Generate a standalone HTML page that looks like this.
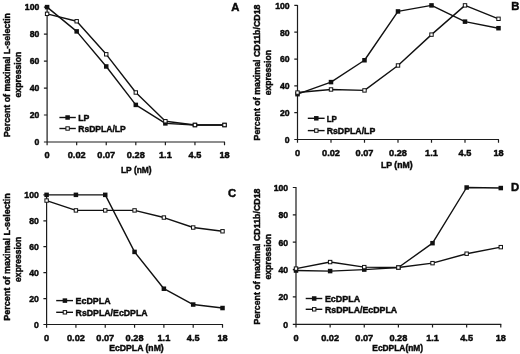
<!DOCTYPE html>
<html lang="en">
<head>
<meta charset="utf-8">
<title>Figure</title>
<style>
html,body{margin:0;padding:0;background:#fff;}
body{width:520px;height:354px;overflow:hidden;}
svg{display:block;}
text{font-family:"Liberation Sans", Arial, Helvetica, sans-serif;font-weight:bold;fill:#0a0a0a;stroke:#0a0a0a;stroke-width:0.45;}
.ax{stroke:#1c1c1c;stroke-width:1.2;fill:none;}
.ln{stroke:#111;stroke-width:1.4;fill:none;stroke-linejoin:round;}
.fm{fill:#111;stroke:none;}
.om{fill:#fff;stroke:#111;stroke-width:1.0;}
</style>
</head>
<body>
<svg width="520" height="354" viewBox="0 0 520 354">
<rect width="520" height="354" fill="#fff"/>
<g>
<path d="M47.1 6.6V145.2M43.9 142H225.02" class="ax"/>
<path d="M43.9 115.02H47.1M43.9 88.04H47.1M43.9 61.06H47.1M43.9 34.08H47.1M43.9 7.1H47.1M76.67 142V145.2M106.24 142V145.2M135.81 142V145.2M165.38 142V145.2M194.95 142V145.2M224.52 142V145.2" class="ax"/>
<text x="39.3" y="145.3" font-size="8.7" text-anchor="end">0</text>
<text x="39.3" y="118.32" font-size="8.7" text-anchor="end">20</text>
<text x="39.3" y="91.34" font-size="8.7" text-anchor="end">40</text>
<text x="39.3" y="64.36" font-size="8.7" text-anchor="end">60</text>
<text x="39.3" y="37.38" font-size="8.7" text-anchor="end">80</text>
<text x="39.3" y="10.4" font-size="8.7" text-anchor="end">100</text>
<text x="47.1" y="158.4" font-size="9.2" text-anchor="middle">0</text>
<text x="76.67" y="158.4" font-size="9.2" text-anchor="middle">0.02</text>
<text x="106.24" y="158.4" font-size="9.2" text-anchor="middle">0.07</text>
<text x="135.81" y="158.4" font-size="9.2" text-anchor="middle">0.28</text>
<text x="165.38" y="158.4" font-size="9.2" text-anchor="middle">1.1</text>
<text x="194.95" y="158.4" font-size="9.2" text-anchor="middle">4.5</text>
<text x="224.52" y="158.4" font-size="9.2" text-anchor="middle">18</text>
<text x="136.3" y="173" font-size="9.2" text-anchor="middle" textLength="30.7" lengthAdjust="spacingAndGlyphs">LP (nM)</text>
<text x="10" y="75" font-size="9.2" text-anchor="middle" textLength="124" lengthAdjust="spacingAndGlyphs" transform="rotate(-90 10 75)">Percent of maximal L-selectin</text>
<text x="21.5" y="74.6" font-size="9.2" text-anchor="middle" textLength="45.7" lengthAdjust="spacingAndGlyphs" transform="rotate(-90 21.5 74.6)">expression</text>
<text x="235.3" y="10.5" font-size="11.3" text-anchor="middle">A</text>
<polyline points="47.1,7.1 76.67,31.38 106.24,66.46 135.81,104.9 165.38,123.38 194.95,125 224.52,125" class="ln"/>
<polyline points="47.1,13.84 76.67,21.26 106.24,54.31 135.81,92.49 165.38,121.23 194.95,125 224.52,125" class="ln"/>
<rect x="44.85" y="4.85" width="4.5" height="4.5" class="fm"/>
<rect x="74.42" y="29.13" width="4.5" height="4.5" class="fm"/>
<rect x="103.99" y="64.21" width="4.5" height="4.5" class="fm"/>
<rect x="133.56" y="102.65" width="4.5" height="4.5" class="fm"/>
<rect x="163.13" y="121.13" width="4.5" height="4.5" class="fm"/>
<rect x="192.7" y="122.75" width="4.5" height="4.5" class="fm"/>
<rect x="222.27" y="122.75" width="4.5" height="4.5" class="fm"/>
<rect x="45.4" y="12.14" width="3.4" height="3.4" class="om"/>
<rect x="74.97" y="19.56" width="3.4" height="3.4" class="om"/>
<rect x="104.54" y="52.61" width="3.4" height="3.4" class="om"/>
<rect x="134.11" y="90.79" width="3.4" height="3.4" class="om"/>
<rect x="163.68" y="119.53" width="3.4" height="3.4" class="om"/>
<rect x="193.25" y="123.3" width="3.4" height="3.4" class="om"/>
<rect x="222.82" y="123.3" width="3.4" height="3.4" class="om"/>
<path d="M59.4 117.5H75.8" class="ln"/>
<rect x="65.35" y="115.25" width="4.5" height="4.5" class="fm"/>
<text x="78.2" y="120.8" font-size="9.7" text-anchor="start" textLength="11.2" lengthAdjust="spacingAndGlyphs">LP</text>
<path d="M59.4 128.5H75.8" class="ln"/>
<rect x="65.9" y="126.8" width="3.4" height="3.4" class="om"/>
<text x="78.2" y="131.8" font-size="9.7" text-anchor="start" textLength="47.6" lengthAdjust="spacingAndGlyphs">RsDPLA/LP</text>
</g>
<g>
<path d="M297.5 4.9V142.7M294.3 139.5H499" class="ax"/>
<path d="M294.3 112.68H297.5M294.3 85.86H297.5M294.3 59.04H297.5M294.3 32.22H297.5M294.3 5.4H297.5M331 139.5V142.7M364.5 139.5V142.7M398 139.5V142.7M431.5 139.5V142.7M465 139.5V142.7M498.5 139.5V142.7" class="ax"/>
<text x="289.7" y="142.8" font-size="8.7" text-anchor="end">0</text>
<text x="289.7" y="115.98" font-size="8.7" text-anchor="end">20</text>
<text x="289.7" y="89.16" font-size="8.7" text-anchor="end">40</text>
<text x="289.7" y="62.34" font-size="8.7" text-anchor="end">60</text>
<text x="289.7" y="35.52" font-size="8.7" text-anchor="end">80</text>
<text x="289.7" y="8.7" font-size="8.7" text-anchor="end">100</text>
<text x="297.5" y="155.9" font-size="9.2" text-anchor="middle">0</text>
<text x="331" y="155.9" font-size="9.2" text-anchor="middle">0.02</text>
<text x="364.5" y="155.9" font-size="9.2" text-anchor="middle">0.07</text>
<text x="398" y="155.9" font-size="9.2" text-anchor="middle">0.28</text>
<text x="431.5" y="155.9" font-size="9.2" text-anchor="middle">1.1</text>
<text x="465" y="155.9" font-size="9.2" text-anchor="middle">4.5</text>
<text x="498.5" y="155.9" font-size="9.2" text-anchor="middle">18</text>
<text x="396.8" y="168.1" font-size="9.2" text-anchor="middle" textLength="31.7" lengthAdjust="spacingAndGlyphs">LP (nM)</text>
<text x="260.3" y="72.5" font-size="9.2" text-anchor="middle" textLength="136" lengthAdjust="spacingAndGlyphs" transform="rotate(-90 260.3 72.5)">Percent of maximal CD11b/CD18</text>
<text x="271.1" y="72.7" font-size="9.2" text-anchor="middle" textLength="45.2" lengthAdjust="spacingAndGlyphs" transform="rotate(-90 271.1 72.7)">expression</text>
<text x="515.4" y="9.6" font-size="11.3" text-anchor="middle">B</text>
<polyline points="297.5,94.17 331,82.11 364.5,60.25 398,11.43 431.5,5.4 465,21.63 498.5,28.2" class="ln"/>
<polyline points="297.5,92.56 331,89.48 364.5,90.42 398,65.48 431.5,34.63 465,5.4 498.5,18.81" class="ln"/>
<rect x="295.25" y="91.92" width="4.5" height="4.5" class="fm"/>
<rect x="328.75" y="79.86" width="4.5" height="4.5" class="fm"/>
<rect x="362.25" y="58" width="4.5" height="4.5" class="fm"/>
<rect x="395.75" y="9.18" width="4.5" height="4.5" class="fm"/>
<rect x="429.25" y="3.15" width="4.5" height="4.5" class="fm"/>
<rect x="462.75" y="19.38" width="4.5" height="4.5" class="fm"/>
<rect x="496.25" y="25.95" width="4.5" height="4.5" class="fm"/>
<rect x="295.8" y="90.86" width="3.4" height="3.4" class="om"/>
<rect x="329.3" y="87.78" width="3.4" height="3.4" class="om"/>
<rect x="362.8" y="88.72" width="3.4" height="3.4" class="om"/>
<rect x="396.3" y="63.78" width="3.4" height="3.4" class="om"/>
<rect x="429.8" y="32.93" width="3.4" height="3.4" class="om"/>
<rect x="463.3" y="3.7" width="3.4" height="3.4" class="om"/>
<rect x="496.8" y="17.11" width="3.4" height="3.4" class="om"/>
<path d="M307.8 118.3H324.6" class="ln"/>
<rect x="314.05" y="116.05" width="4.5" height="4.5" class="fm"/>
<text x="326.7" y="121.6" font-size="9.7" text-anchor="start" textLength="10.2" lengthAdjust="spacingAndGlyphs">LP</text>
<path d="M307.8 130.6H324.6" class="ln"/>
<rect x="314.6" y="128.9" width="3.4" height="3.4" class="om"/>
<text x="326.7" y="133.9" font-size="9.7" text-anchor="start" textLength="48.6" lengthAdjust="spacingAndGlyphs">RsDPLA/LP</text>
</g>
<g>
<path d="M46.6 194.35V327.7M43.4 324.5H223.02" class="ax"/>
<path d="M43.4 298.57H46.6M43.4 272.64H46.6M43.4 246.71H46.6M43.4 220.78H46.6M43.4 194.85H46.6M75.92 324.5V327.7M105.24 324.5V327.7M134.56 324.5V327.7M163.88 324.5V327.7M193.2 324.5V327.7M222.52 324.5V327.7" class="ax"/>
<text x="38.8" y="327.8" font-size="8.7" text-anchor="end">0</text>
<text x="38.8" y="301.87" font-size="8.7" text-anchor="end">20</text>
<text x="38.8" y="275.94" font-size="8.7" text-anchor="end">40</text>
<text x="38.8" y="250.01" font-size="8.7" text-anchor="end">60</text>
<text x="38.8" y="224.08" font-size="8.7" text-anchor="end">80</text>
<text x="38.8" y="198.15" font-size="8.7" text-anchor="end">100</text>
<text x="46.6" y="341.3" font-size="9.2" text-anchor="middle">0</text>
<text x="75.92" y="341.3" font-size="9.2" text-anchor="middle">0.02</text>
<text x="105.24" y="341.3" font-size="9.2" text-anchor="middle">0.07</text>
<text x="134.56" y="341.3" font-size="9.2" text-anchor="middle">0.28</text>
<text x="163.88" y="341.3" font-size="9.2" text-anchor="middle">1.1</text>
<text x="193.2" y="341.3" font-size="9.2" text-anchor="middle">4.5</text>
<text x="222.52" y="341.3" font-size="9.2" text-anchor="middle">18</text>
<text x="136.5" y="351.4" font-size="9.2" text-anchor="middle" textLength="54.5" lengthAdjust="spacingAndGlyphs">EcDPLA (nM)</text>
<text x="10" y="257" font-size="9.2" text-anchor="middle" textLength="127.5" lengthAdjust="spacingAndGlyphs" transform="rotate(-90 10 257)">Percent of maximal L-selectin</text>
<text x="21" y="259.3" font-size="9.2" text-anchor="middle" textLength="45.2" lengthAdjust="spacingAndGlyphs" transform="rotate(-90 21 259.3)">expression</text>
<text x="232.1" y="197" font-size="11.3" text-anchor="middle">C</text>
<polyline points="46.6,194.85 75.92,194.85 105.24,194.85 134.56,251.9 163.88,288.72 193.2,304.53 222.52,308.03" class="ln"/>
<polyline points="46.6,200.55 75.92,210.41 105.24,210.41 134.56,210.41 163.88,217.54 193.2,227.52 222.52,231.28" class="ln"/>
<rect x="44.35" y="192.6" width="4.5" height="4.5" class="fm"/>
<rect x="73.67" y="192.6" width="4.5" height="4.5" class="fm"/>
<rect x="102.99" y="192.6" width="4.5" height="4.5" class="fm"/>
<rect x="132.31" y="249.65" width="4.5" height="4.5" class="fm"/>
<rect x="161.63" y="286.47" width="4.5" height="4.5" class="fm"/>
<rect x="190.95" y="302.28" width="4.5" height="4.5" class="fm"/>
<rect x="220.27" y="305.78" width="4.5" height="4.5" class="fm"/>
<rect x="44.9" y="198.85" width="3.4" height="3.4" class="om"/>
<rect x="74.22" y="208.71" width="3.4" height="3.4" class="om"/>
<rect x="103.54" y="208.71" width="3.4" height="3.4" class="om"/>
<rect x="132.86" y="208.71" width="3.4" height="3.4" class="om"/>
<rect x="162.18" y="215.84" width="3.4" height="3.4" class="om"/>
<rect x="191.5" y="225.82" width="3.4" height="3.4" class="om"/>
<rect x="220.82" y="229.58" width="3.4" height="3.4" class="om"/>
<path d="M56.2 300.6H73" class="ln"/>
<rect x="62.65" y="298.35" width="4.5" height="4.5" class="fm"/>
<text x="75.6" y="303.9" font-size="9.7" text-anchor="start" textLength="35" lengthAdjust="spacingAndGlyphs">EcDPLA</text>
<path d="M56.2 312.3H73" class="ln"/>
<rect x="63.2" y="310.6" width="3.4" height="3.4" class="om"/>
<text x="75.6" y="315.6" font-size="9.7" text-anchor="start" textLength="72" lengthAdjust="spacingAndGlyphs">RsDPLA/EcDPLA</text>
</g>
<g>
<path d="M296 187V327.5M292.8 324.3H501.28" class="ax"/>
<path d="M292.8 296.94H296M292.8 269.58H296M292.8 242.22H296M292.8 214.86H296M292.8 187.5H296M330.13 324.3V327.5M364.26 324.3V327.5M398.39 324.3V327.5M432.52 324.3V327.5M466.65 324.3V327.5M500.78 324.3V327.5" class="ax"/>
<text x="288.2" y="327.6" font-size="8.7" text-anchor="end">0</text>
<text x="288.2" y="300.24" font-size="8.7" text-anchor="end">20</text>
<text x="288.2" y="272.88" font-size="8.7" text-anchor="end">40</text>
<text x="288.2" y="245.52" font-size="8.7" text-anchor="end">60</text>
<text x="288.2" y="218.16" font-size="8.7" text-anchor="end">80</text>
<text x="288.2" y="190.8" font-size="8.7" text-anchor="end">100</text>
<text x="296" y="341.2" font-size="9.2" text-anchor="middle">0</text>
<text x="330.13" y="341.2" font-size="9.2" text-anchor="middle">0.02</text>
<text x="364.26" y="341.2" font-size="9.2" text-anchor="middle">0.07</text>
<text x="398.39" y="341.2" font-size="9.2" text-anchor="middle">0.28</text>
<text x="432.52" y="341.2" font-size="9.2" text-anchor="middle">1.1</text>
<text x="466.65" y="341.2" font-size="9.2" text-anchor="middle">4.5</text>
<text x="500.78" y="341.2" font-size="9.2" text-anchor="middle">18</text>
<text x="397.7" y="351.3" font-size="9.2" text-anchor="middle" textLength="50.8" lengthAdjust="spacingAndGlyphs">EcDPLA(nM)</text>
<text x="260.2" y="256.5" font-size="9.2" text-anchor="middle" textLength="136" lengthAdjust="spacingAndGlyphs" transform="rotate(-90 260.2 256.5)">Percent of maximal CD11b/CD18</text>
<text x="271.5" y="256.7" font-size="9.2" text-anchor="middle" textLength="45.7" lengthAdjust="spacingAndGlyphs" transform="rotate(-90 271.5 256.7)">expression</text>
<text x="515" y="190.7" font-size="11.3" text-anchor="middle">D</text>
<polyline points="296,270.54 330.13,271.08 364.26,269.58 398.39,267.53 432.52,243.18 466.65,187.5 500.78,188.05" class="ln"/>
<polyline points="296,268.62 330.13,262.06 364.26,267.12 398.39,267.53 432.52,263.15 466.65,253.71 500.78,247.14" class="ln"/>
<rect x="293.75" y="268.29" width="4.5" height="4.5" class="fm"/>
<rect x="327.88" y="268.83" width="4.5" height="4.5" class="fm"/>
<rect x="362.01" y="267.33" width="4.5" height="4.5" class="fm"/>
<rect x="396.14" y="265.28" width="4.5" height="4.5" class="fm"/>
<rect x="430.27" y="240.93" width="4.5" height="4.5" class="fm"/>
<rect x="464.4" y="185.25" width="4.5" height="4.5" class="fm"/>
<rect x="498.53" y="185.8" width="4.5" height="4.5" class="fm"/>
<rect x="294.3" y="266.92" width="3.4" height="3.4" class="om"/>
<rect x="328.43" y="260.36" width="3.4" height="3.4" class="om"/>
<rect x="362.56" y="265.42" width="3.4" height="3.4" class="om"/>
<rect x="396.69" y="265.83" width="3.4" height="3.4" class="om"/>
<rect x="430.82" y="261.45" width="3.4" height="3.4" class="om"/>
<rect x="464.95" y="252.01" width="3.4" height="3.4" class="om"/>
<rect x="499.08" y="245.44" width="3.4" height="3.4" class="om"/>
<path d="M305.7 298.5H322.3" class="ln"/>
<rect x="311.95" y="296.25" width="4.5" height="4.5" class="fm"/>
<text x="324.9" y="301.8" font-size="9.7" text-anchor="start" textLength="35.2" lengthAdjust="spacingAndGlyphs">EcDPLA</text>
<path d="M305.7 309.3H322.3" class="ln"/>
<rect x="312.5" y="307.6" width="3.4" height="3.4" class="om"/>
<text x="324.9" y="312.6" font-size="9.7" text-anchor="start" textLength="72.3" lengthAdjust="spacingAndGlyphs">RsDPLA/EcDPLA</text>
</g>
</svg>
</body>
</html>
